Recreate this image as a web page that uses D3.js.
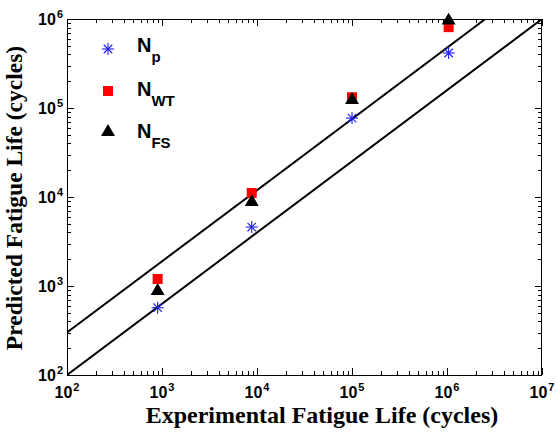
<!DOCTYPE html>
<html><head><meta charset="utf-8">
<script src="https://cdn.jsdelivr.net/npm/d3@7"></script>
<style>body{margin:0;background:#fff}svg{display:block}</style>
</head><body>
<svg id="c" width="556" height="439"></svg>
<script>
// ---- data ----
const experimental = [900, 8800, 100000, 1040000];
const Np  = [570, 4600, 77000, 415000];
const Nwt = [1200, 11100, 132000, 810000];
const Nfs = [880, 8800, 123000, 960000];
const seriesNames = [["N","p"],["N","WT"],["N","FS"]];
const bandLower = [[1e2,1e2],[1e7,1e6]];
const bandUpper = [[1e2,3e2],[1e7,3e6]];
const xTicks = [1e2,1e3,1e4,1e5,1e6,1e7];
const yTicks = [1e2,1e3,1e4,1e5,1e6];
const xTitle = "Experimental Fatigue Life (cycles)";
const yTitle = "Predicted Fatigue Life (cycles)";

const svg = d3.select("#c");
const L=67,R=542,T=19,B=375;
const x = d3.scaleLog().domain([1e2,1e7]).range([L,R]);
const y = d3.scaleLog().domain([1e2,1e6]).range([B,T]);

svg.append("clipPath").attr("id","clip").append("rect")
  .attr("x",L).attr("y",T).attr("width",R-L).attr("height",B-T);

// minor ticks
function minors(dom){const out=[];for(let e=Math.log10(dom[0]);e<Math.log10(dom[1]);e++){for(let k=2;k<=9;k++)out.push(k*Math.pow(10,e));}return out;}
const g = svg.append("g");
const tickColor="#000";
minors(x.domain()).forEach(v=>{
  const px=Math.round(x(v))+0.5;
  g.append("line").attr("x1",px).attr("x2",px).attr("y1",B).attr("y2",B-4).attr("stroke",tickColor);
  g.append("line").attr("x1",px).attr("x2",px).attr("y1",T).attr("y2",T+4).attr("stroke",tickColor);
});
xTicks.forEach(v=>{
  const px=Math.round(x(v))+0.5;
  g.append("line").attr("x1",px).attr("x2",px).attr("y1",B).attr("y2",B-7).attr("stroke",tickColor);
  g.append("line").attr("x1",px).attr("x2",px).attr("y1",T).attr("y2",T+7).attr("stroke",tickColor);
});
minors(y.domain()).forEach(v=>{
  const py=Math.round(y(v))+0.5;
  g.append("line").attr("x1",L).attr("x2",L+4).attr("y1",py).attr("y2",py).attr("stroke",tickColor);
  g.append("line").attr("x1",R).attr("x2",R-4).attr("y1",py).attr("y2",py).attr("stroke",tickColor);
});
yTicks.forEach(v=>{
  const py=Math.round(y(v))+0.5;
  g.append("line").attr("x1",L).attr("x2",L+7).attr("y1",py).attr("y2",py).attr("stroke",tickColor);
  g.append("line").attr("x1",R).attr("x2",R-7).attr("y1",py).attr("y2",py).attr("stroke",tickColor);
});
svg.append("rect").attr("x",L+0.5).attr("y",T+0.5).attr("width",R-L-1).attr("height",B-T)
  .attr("fill","none").attr("stroke","#000").attr("stroke-width",1);

// tick labels
const font="'Liberation Sans', Arial, sans-serif";
xTicks.forEach(v=>{
  const t=svg.append("text").attr("x",x(v)).attr("y",398).attr("text-anchor","middle")
    .attr("font-family",font).attr("font-weight","bold").attr("font-size",16);
  t.append("tspan").text("10");
  t.append("tspan").attr("dy",-7).attr("dx",1).attr("font-size",11).text(Math.round(Math.log10(v)));
});
yTicks.forEach(v=>{
  const t=svg.append("text").attr("x",63).attr("y",y(v)+6).attr("text-anchor","end")
    .attr("font-family",font).attr("font-weight","bold").attr("font-size",16);
  t.append("tspan").text("10");
  t.append("tspan").attr("dy",-7).attr("dx",1).attr("font-size",11).text(Math.round(Math.log10(v)));
});

// titles
const serif="'Liberation Serif','Times New Roman',serif";
svg.append("text").attr("x",322).attr("y",423).attr("text-anchor","middle")
  .attr("font-family",serif).attr("font-weight","bold").attr("font-size",24).text(xTitle);
svg.append("text").attr("transform","translate(22,198) rotate(-90)").attr("text-anchor","middle")
  .attr("font-family",serif).attr("font-weight","bold").attr("font-size",23.5).text(yTitle);

// band lines
const line=d3.line().x(d=>x(d[0])).y(d=>y(d[1]));
[bandLower,bandUpper].forEach(b=>{
  svg.append("path").attr("d",line(b)).attr("clip-path","url(#clip)")
    .attr("fill","none").attr("stroke","#000").attr("stroke-width",2);
});

// markers
function star(sel,cx,cy,r){
  const gg=sel.append("g").attr("stroke","#1a1aff").attr("stroke-width",1.1);
  [0,45,90,135].forEach(a=>{
    const rad=a*Math.PI/180;
    gg.append("line").attr("x1",cx-r*Math.cos(rad)).attr("y1",cy-r*Math.sin(rad))
      .attr("x2",cx+r*Math.cos(rad)).attr("y2",cy+r*Math.sin(rad));
  });
}
function square(sel,cx,cy,s){
  sel.append("rect").attr("x",cx-s/2).attr("y",cy-s/2).attr("width",s).attr("height",s).attr("fill","#ff0000");
}
function tri(sel,cx,cy,w){
  const h=w*0.85;
  sel.append("path").attr("d",`M${cx},${cy-h*2/3}L${cx+w/2},${cy+h/3}L${cx-w/2},${cy+h/3}Z`).attr("fill","#000");
}
const m=svg.append("g");
experimental.forEach((e,i)=>square(m,x(e),y(Nwt[i]),10));
experimental.forEach((e,i)=>tri(m,x(e),y(Nfs[i]),14));
experimental.forEach((e,i)=>star(m,x(e),y(Np[i]),6));

// legend
const lg=svg.append("g");
const ly=[49,91,132];
star(lg,108,ly[0],6); square(lg,108,ly[1],10); tri(lg,108,ly[2],14);
seriesNames.forEach((n,i)=>{
  const t=lg.append("text").attr("x",137).attr("y",ly[i]+3+ (i==0?0:(i==1?2:3)) ).attr("font-family",font)
    .attr("font-weight","bold").attr("font-size",20);
  t.append("tspan").text(n[0]);
  t.append("tspan").attr("dy",10).attr("font-size",15).text(n[1]);
});
</script>
</body></html>
